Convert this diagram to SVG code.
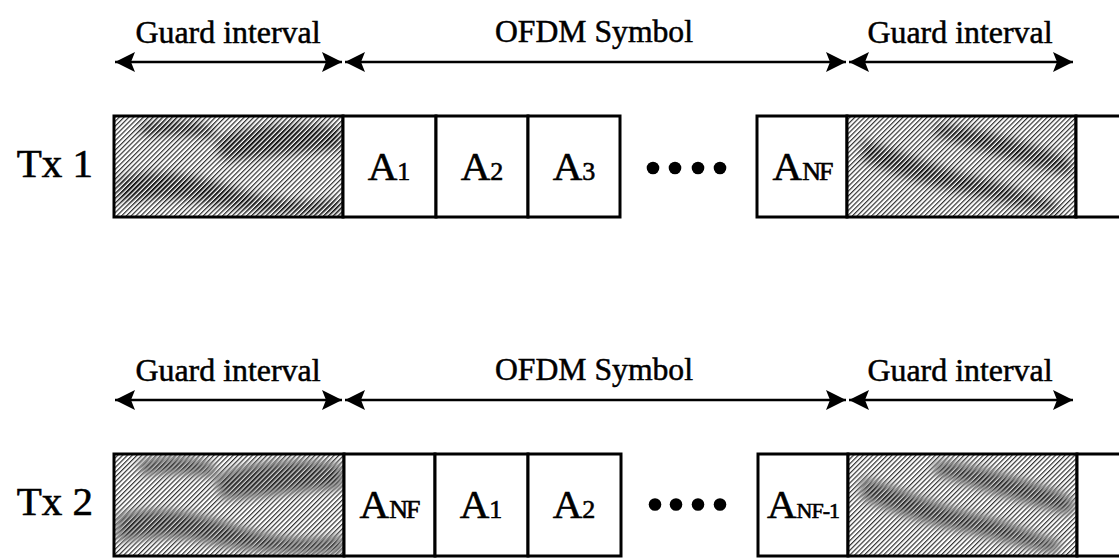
<svg xmlns="http://www.w3.org/2000/svg" width="1119" height="559" viewBox="0 0 1119 559">
  <defs>
    <style>
      .lbl { font-family: "Liberation Serif", "Times New Roman", serif; font-size: 31px; fill: #000; stroke: #000; stroke-width: 0.5; text-anchor: middle; }
      .tx { font-family: "Liberation Serif", "Times New Roman", serif; font-size: 41px; fill: #000; stroke: #000; stroke-width: 0.6; text-anchor: end; }
      .sym { font-family: "Liberation Serif", "Times New Roman", serif; font-size: 41px; fill: #000; stroke: #000; stroke-width: 0.6; text-anchor: middle; }
      .sub { font-size: 26px; }
      .sub-sm { font-size: 22px; }
      .cell { fill: #fff; stroke: #000; stroke-width: 3; }
      .guard { fill: url(#hatch); stroke: #000; stroke-width: 3; }
      .streak { fill: url(#hatchDark); opacity: 0.8; }
      .span { stroke: #000; stroke-width: 2.5; fill: none; marker-start: url(#headStart); marker-end: url(#headEnd); }
      .dot { fill: #000; }
    </style>
    <pattern id="hatch" patternUnits="userSpaceOnUse" width="3.4" height="3.4" patternTransform="rotate(45)">
      <rect width="3.4" height="3.4" fill="#fff"/>
      <rect width="1.2" height="3.4" fill="#333"/>
    </pattern>
    <pattern id="hatchDark" patternUnits="userSpaceOnUse" width="3.4" height="3.4" patternTransform="rotate(45)">
      <rect width="3.4" height="3.4" fill="#fff"/>
      <rect width="2.2" height="3.4" fill="#000"/>
    </pattern>
    <filter id="soft" x="-20%" y="-20%" width="140%" height="140%">
      <feGaussianBlur stdDeviation="5"/>
    </filter>
    <marker id="headEnd" markerUnits="userSpaceOnUse" markerWidth="24" markerHeight="24" viewBox="-22 -11 24 22" refX="0" refY="0" orient="auto">
      <path d="M0,0 L-20,-10 L-16,0 L-20,10 Z" fill="#000"/>
    </marker>
    <marker id="headStart" markerUnits="userSpaceOnUse" markerWidth="24" markerHeight="24" viewBox="-2 -11 24 22" refX="0" refY="0" orient="auto">
      <path d="M0,0 L20,-10 L16,0 L20,10 Z" fill="#000"/>
    </marker>
    <!-- darker streaks inside the shaded guard intervals (drawn in row-1 coordinates) -->
    <mask id="streaksLeft" maskUnits="userSpaceOnUse" x="0" y="0" width="1119" height="559">
      <g fill="#fff" filter="url(#soft)">
        <path d="M140,124 C165,118 195,120 215,128 L212,138 C190,134 165,134 142,136 Z"/>
        <path d="M215,140 C245,124 300,120 342,128 L342,150 C300,150 260,160 222,160 Z"/>
        <path d="M118,178 C160,166 200,176 240,190 C280,202 310,204 342,198 L342,214 C290,216 240,212 200,202 C170,196 140,200 118,202 Z"/>
      </g>
    </mask>
    <mask id="streaksRight" maskUnits="userSpaceOnUse" x="0" y="0" width="1119" height="559">
      <g fill="#fff" filter="url(#soft)">
        <path d="M862,140 C900,150 940,170 980,178 C1010,184 1030,196 1060,204 L1056,214 C1020,208 990,198 960,192 C920,184 890,172 862,160 Z"/>
        <path d="M935,124 C970,126 1010,138 1040,148 C1055,152 1068,158 1074,164 L1070,176 C1040,168 1010,160 980,150 C960,144 945,138 935,136 Z"/>
      </g>
    </mask>
  </defs>

  <rect width="1119" height="559" fill="#fff"/>

  <!-- interval spans -->
  <g id="connectors">
    <line class="span" x1="115" y1="62" x2="342" y2="62"/>
    <line class="span" x1="345" y1="62" x2="846" y2="62"/>
    <line class="span" x1="849" y1="62" x2="1073" y2="62"/>
    <line class="span" x1="115" y1="400" x2="342" y2="400"/>
    <line class="span" x1="345" y1="400" x2="846" y2="400"/>
    <line class="span" x1="849" y1="400" x2="1073" y2="400"/>
  </g>

  <g id="labels-top">
    <text class="lbl" x="228" y="43" textLength="185" lengthAdjust="spacingAndGlyphs">Guard interval</text>
    <text class="lbl" x="594" y="42" textLength="198" lengthAdjust="spacingAndGlyphs">OFDM Symbol</text>
    <text class="lbl" x="960" y="43" textLength="185" lengthAdjust="spacingAndGlyphs">Guard interval</text>
  </g>
  <g id="labels-bottom">
    <text class="lbl" x="228" y="381" textLength="185" lengthAdjust="spacingAndGlyphs">Guard interval</text>
    <text class="lbl" x="594" y="380" textLength="198" lengthAdjust="spacingAndGlyphs">OFDM Symbol</text>
    <text class="lbl" x="960" y="381" textLength="185" lengthAdjust="spacingAndGlyphs">Guard interval</text>
  </g>

  <!-- transmitter 1 -->
  <g id="tx1">
    <text class="tx" x="93" y="177">Tx 1</text>
    <g id="tx1-guard-lead">
      <rect class="guard" x="114" y="116" width="229" height="101"/>
      <rect class="streak" x="115.5" y="117.5" width="226" height="98" mask="url(#streaksLeft)"/>
    </g>
    <g id="tx1-a1">
      <rect class="cell" x="343" y="116" width="93" height="101"/>
      <text class="sym" x="389" y="180">A<tspan class="sub">1</tspan></text>
    </g>
    <g id="tx1-a2">
      <rect class="cell" x="436" y="116" width="92" height="101"/>
      <text class="sym" x="482" y="180">A<tspan class="sub">2</tspan></text>
    </g>
    <g id="tx1-a3">
      <rect class="cell" x="528" y="116" width="92" height="101"/>
      <text class="sym" x="574" y="180">A<tspan class="sub">3</tspan></text>
    </g>
    <g id="tx1-dots">
      <circle class="dot" cx="653" cy="168" r="6.3"/>
      <circle class="dot" cx="675" cy="168" r="6.3"/>
      <circle class="dot" cx="698" cy="168" r="6.3"/>
      <circle class="dot" cx="720" cy="168" r="6.3"/>
    </g>
    <g id="tx1-anf">
      <rect class="cell" x="757" y="116" width="90" height="101"/>
      <text class="sym" x="802" y="180">A<tspan class="sub" letter-spacing="-2">NF</tspan></text>
    </g>
    <g id="tx1-guard-trail">
      <rect class="guard" x="847" y="116" width="229" height="101"/>
      <rect class="streak" x="848.5" y="117.5" width="226" height="98" mask="url(#streaksRight)"/>
    </g>
    <g id="tx1-next">
      <rect class="cell" x="1076" y="116" width="60" height="101"/>
    </g>
  </g>

  <!-- transmitter 2 -->
  <g id="tx2">
    <text class="tx" x="93" y="515">Tx 2</text>
    <g id="tx2-guard-lead">
      <rect class="guard" x="114" y="454" width="230" height="102"/>
      <g transform="translate(0,338)">
        <rect class="streak" x="115.5" y="117.5" width="227" height="99" mask="url(#streaksLeft)"/>
      </g>
    </g>
    <g id="tx2-anf">
      <rect class="cell" x="344" y="454" width="91" height="102"/>
      <text class="sym" x="389" y="518">A<tspan class="sub" letter-spacing="-2">NF</tspan></text>
    </g>
    <g id="tx2-a1">
      <rect class="cell" x="435" y="454" width="93" height="102"/>
      <text class="sym" x="481" y="518">A<tspan class="sub">1</tspan></text>
    </g>
    <g id="tx2-a2">
      <rect class="cell" x="528" y="454" width="93" height="102"/>
      <text class="sym" x="574" y="518">A<tspan class="sub">2</tspan></text>
    </g>
    <g id="tx2-dots">
      <circle class="dot" cx="655" cy="504.5" r="6.3"/>
      <circle class="dot" cx="676" cy="504.5" r="6.3"/>
      <circle class="dot" cx="698" cy="504.5" r="6.3"/>
      <circle class="dot" cx="720" cy="504.5" r="6.3"/>
    </g>
    <g id="tx2-anf-1">
      <rect class="cell" x="758" y="454" width="90" height="102"/>
      <text class="sym" x="803" y="518">A<tspan class="sub-sm" letter-spacing="-1">NF-1</tspan></text>
    </g>
    <g id="tx2-guard-trail">
      <rect class="guard" x="848" y="454" width="229" height="102"/>
      <g transform="translate(0,338)">
        <rect class="streak" x="849.5" y="117.5" width="226" height="99" mask="url(#streaksRight)"/>
      </g>
    </g>
    <g id="tx2-next">
      <rect class="cell" x="1077" y="454" width="60" height="102"/>
    </g>
  </g>
</svg>
